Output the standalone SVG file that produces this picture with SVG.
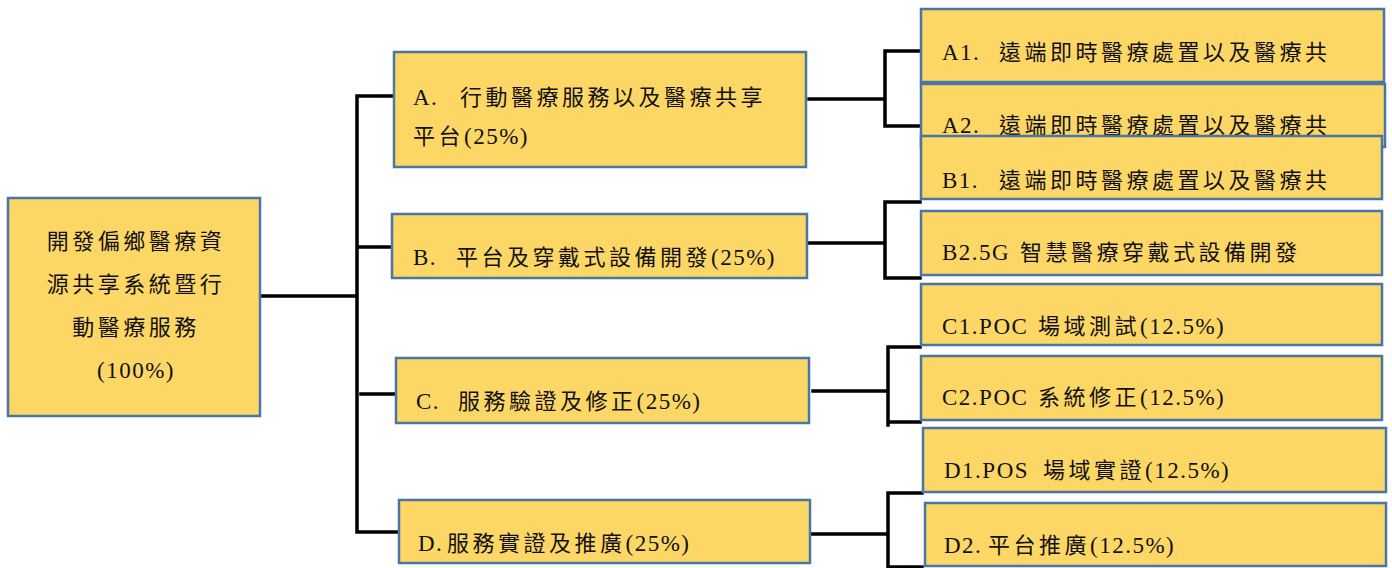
<svg xmlns="http://www.w3.org/2000/svg" width="1392" height="568" viewBox="0 0 1392 568">
<style>
.box{fill:#FDD766;stroke:#4A76A6;stroke-width:2.5}
.ln{fill:none;stroke:#000;stroke-width:3.5;stroke-linecap:square;stroke-linejoin:miter}
text{font-family:"Liberation Serif","Noto Sans CJK TC",serif;font-size:22px;fill:#111;letter-spacing:3.5px}
.l{letter-spacing:1.5px;font-size:23px}
.c{text-anchor:middle}
</style>
<rect width="1392" height="568" fill="#fff"/>
<g id="connectors">
<path class="ln" d="M260 296H357M357 96V532M357 96H394M357 247H392M361 394H396M357 532H399"/>
<path class="ln" d="M809 99H885M920 51H885V126H920"/>
<path class="ln" d="M809 243H885M920 202H885V278H920"/>
<path class="ln" d="M813 391H888M920 347H888V425M888 422H920"/>
<path class="ln" d="M812 534H888M922 493H888V567H922"/>
</g>
<g id="root">
<rect class="box" x="8" y="198" width="252" height="218"/>
<text class="c" x="136" y="249">開發偏鄉醫療資</text>
<text class="c" x="136" y="292">源共享系統暨行</text>
<text class="c" x="136" y="335">動醫療服務</text>
<text class="c" x="136" y="378"><tspan class="l">(100%)</tspan></text>
</g>
<g id="A">
<rect class="box" x="394" y="52" width="412" height="115"/>
<text x="413" y="105"><tspan class="l">A. </tspan><tspan x="460">行動醫療服務以及醫療共享</tspan></text>
<text x="413" y="144">平台<tspan class="l">(25%)</tspan></text>
</g>
<g id="B">
<rect class="box" x="392" y="214" width="415" height="64"/>
<text x="413" y="265"><tspan class="l">B. </tspan><tspan x="456">平台及穿戴式設備開發</tspan><tspan class="l">(25%)</tspan></text>
</g>
<g id="C">
<rect class="box" x="396" y="358" width="413" height="65"/>
<text x="416" y="409"><tspan class="l">C. </tspan><tspan x="458">服務驗證及修正</tspan><tspan class="l">(25%)</tspan></text>
</g>
<g id="D">
<rect class="box" x="399" y="500" width="411" height="63"/>
<text x="418" y="551"><tspan class="l">D.</tspan><tspan x="447">服務實證及推廣</tspan><tspan class="l">(25%)</tspan></text>
</g>
<g id="A1">
<rect class="box" x="921" y="9" width="463" height="73"/>
<text x="942" y="60"><tspan class="l">A1. </tspan><tspan x="999">遠端即時醫療處置以及醫療共</tspan></text>
</g>
<g id="A2">
<rect class="box" x="921" y="84" width="464" height="63"/>
<text x="942" y="133"><tspan class="l">A2. </tspan><tspan x="999">遠端即時醫療處置以及醫療共</tspan></text>
</g>
<g id="B1">
<rect class="box" x="921" y="136" width="461" height="63"/>
<text x="942" y="188"><tspan class="l">B1. </tspan><tspan x="999">遠端即時醫療處置以及醫療共</tspan></text>
</g>
<g id="B2">
<rect class="box" x="921" y="211" width="461" height="64"/>
<text x="942" y="260"><tspan class="l">B2.5G </tspan><tspan x="1020">智慧醫療穿戴式設備開發</tspan></text>
</g>
<g id="C1">
<rect class="box" x="921" y="284" width="461" height="61"/>
<text x="942" y="334"><tspan class="l">C1.POC </tspan><tspan x="1038">場域測試</tspan><tspan class="l">(12.5%)</tspan></text>
</g>
<g id="C2">
<rect class="box" x="921" y="356" width="461" height="64"/>
<text x="942" y="405"><tspan class="l">C2.POC </tspan><tspan x="1038">系統修正</tspan><tspan class="l">(12.5%)</tspan></text>
</g>
<g id="D1">
<rect class="box" x="923" y="428" width="463" height="64"/>
<text x="944" y="478"><tspan class="l">D1.POS </tspan><tspan x="1043">場域實證</tspan><tspan class="l">(12.5%)</tspan></text>
</g>
<g id="D2">
<rect class="box" x="925" y="503" width="461" height="63"/>
<text x="944" y="553"><tspan class="l">D2.</tspan><tspan x="988">平台推廣</tspan><tspan class="l">(12.5%)</tspan></text>
</g>
</svg>
